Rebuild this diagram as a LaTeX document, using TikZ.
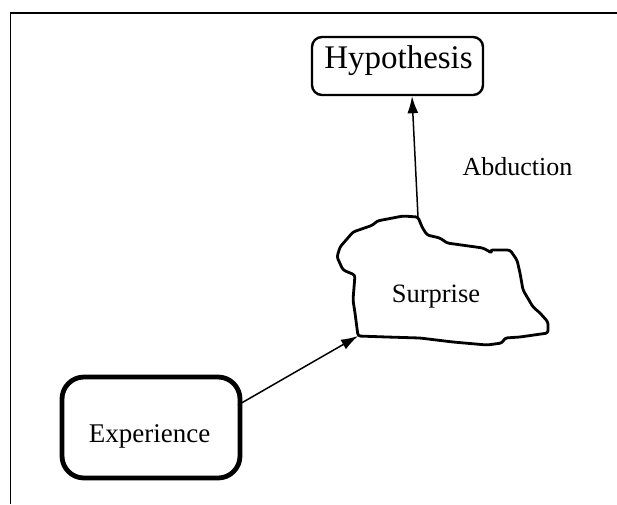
\documentclass[tikz,border=0pt]{standalone}
\usepackage{fontspec}
\setmainfont{Liberation Serif}
\usetikzlibrary{arrows.meta}
\begin{document}
\begin{tikzpicture}[x=1pt,y=-1pt,
  frameline/.style={line width=1.8pt},
  hypbox/.style={draw,line width=2.4pt,rounded corners=10pt,inner sep=0pt},
  expbox/.style={draw,line width=4.8pt,rounded corners=22pt,inner sep=0pt},
  cloud/.style={line width=2.8pt,rounded corners=2.5pt,line join=round},
  link/.style={line width=1.5pt,-{Latex[length=17pt,width=11pt]}},
  label/.style={anchor=base,inner sep=0pt}]
\useasboundingbox (0,0) rectangle (617,504);

% open frame: top and left edges only
\coordinate (frameTR) at (617,13);
\coordinate (frameTL) at (10.5,13);
\coordinate (frameBL) at (10.5,504);
\draw[frameline] (frameTR) -- (frameTL) -- (frameBL);

% boxes
\node[hypbox,minimum width=171pt,minimum height=58pt] (hyp) at (397.5,66) {};
\node[label,font=\fontsize{33}{36}\selectfont] (hyptext) at (398.5,68.5) {Hypothesis};

\node[expbox,minimum width=178pt,minimum height=101pt] (exp) at (151,427.5) {};
\node[label,font=\fontsize{27}{30}\selectfont] (exptext) at (149.5,442) {Experience};

% irregular surprise outline
\coordinate (surTop) at (418,217);
\coordinate (surCorner) at (358,336);
\draw[cloud] (surTop) -- (403,216) -- (377,221) -- (373,225) -- (353,232)
  -- (340,247) -- (337,257) -- (343,270) -- (355,275) -- (353,300)
  -- (355,313) -- (surCorner) -- (387,337) -- (420,338) -- (453,342)
  -- (487,345) -- (502,343) -- (505,338) -- (520,337) -- (548,333)
  -- (548,322) -- (540,313) -- (533,307) -- (523,290) -- (520,273)
  -- (517,260) -- (510,250) -- (490,250) -- (492,253) -- (483,248)
  -- (447,243) -- (440,238) -- (427,235) -- (422,227) -- cycle;
\node[label,font=\fontsize{26.5}{29}\selectfont] (surtext) at (436,302) {Surprise};

\node[label,font=\fontsize{26}{29}\selectfont] (abd) at (517.5,175) {Abduction};

% connectors
\coordinate (expOut) at (238,405);
\draw[link] (expOut) -- (surCorner);
\draw[link] (surTop) -- (hyp.south -| 412,0);
\end{tikzpicture}
\end{document}
